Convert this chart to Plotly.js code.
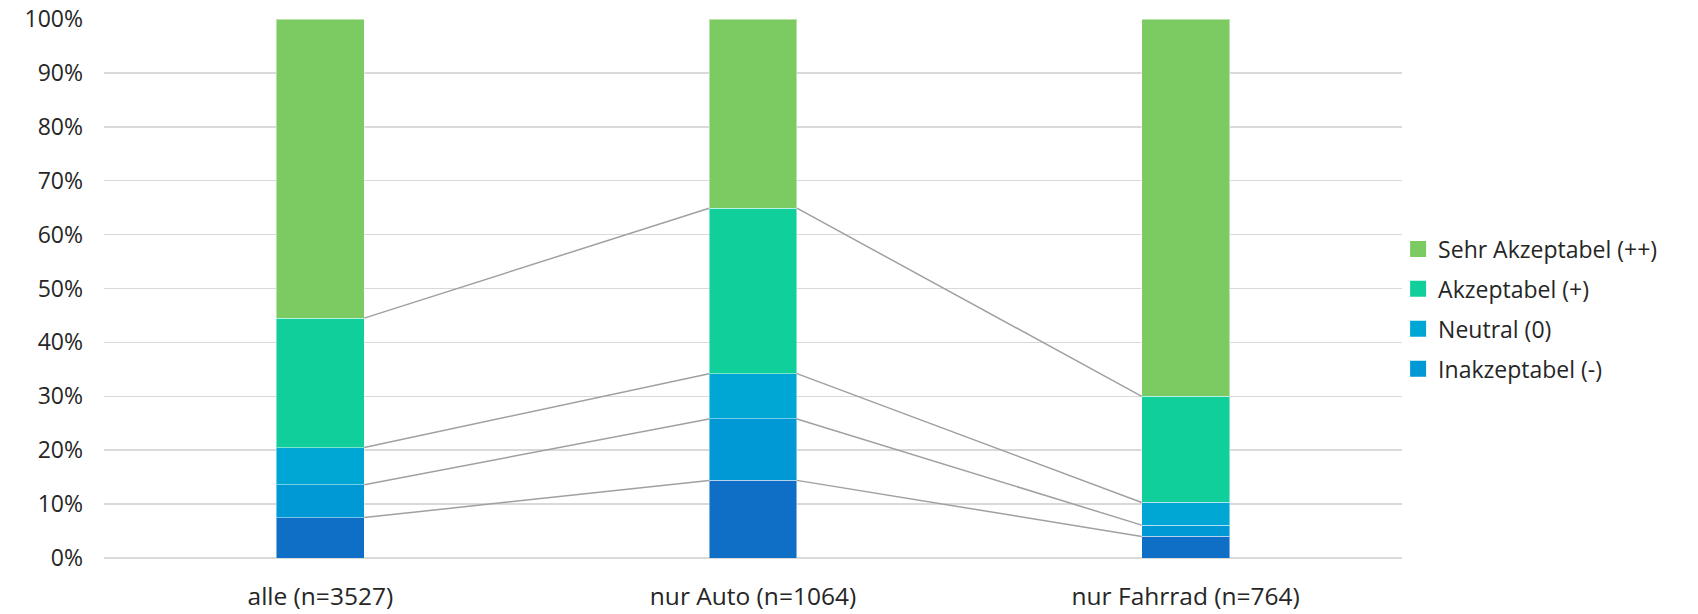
<!DOCTYPE html>
<html>
<head>
<meta charset="utf-8">
<script src="https://cdn.plot.ly/plotly-3.0.1.min.js"></script>
<style>html,body{margin:0;padding:0;background:#fff;}#chart{width:1698px;height:614px;}</style>
</head>
<body>
<div id="chart"></div>
<script>
// Categories
var categories = ["alle (n=3527)", "nur Auto (n=1064)", "nur Fahrrad (n=764)"];
// Series values (percent), bottom to top
var sehrInakzeptabel = [7.5, 14.4, 4.0];
var inakzeptabel     = [6.1, 11.4, 2.1];
var neutral          = [6.9, 8.4, 4.2];
var akzeptabel       = [24.0, 30.7, 19.7];
var sehrAkzeptabel   = [55.5, 35.1, 70.0];
// Tick labels
var yTickVals = [0,10,20,30,40,50,60,70,80,90,100];
var yTickText = ["0%","10%","20%","30%","40%","50%","60%","70%","80%","90%","100%"];

var seriesNames = ["Sehr Inakzeptabel (--)", "Inakzeptabel (-)", "Neutral (0)", "Akzeptabel (+)", "Sehr Akzeptabel (++)"];
var seriesValues = [sehrInakzeptabel, inakzeptabel, neutral, akzeptabel, sehrAkzeptabel];
var seriesColors = ["#0F6FC6", "#0098D5", "#00A7D5", "#10CF9B", "#7CCA62"];
var showLeg = [false, true, true, true, true];

var barWidth = 0.203;
var xIdx = categories.map(function(_, i){ return i; });

var traces = [];
seriesValues.forEach(function(vals, s){
  traces.push({
    type: "bar", x: xIdx, y: vals, name: seriesNames[s],
    width: barWidth, showlegend: false, legendgroup: "g" + s,
    marker: {color: seriesColors[s], line: {color: "rgba(255,255,255,0.45)", width: 1}},
    hoverinfo: "name+y"
  });
});

// Series lines connecting cumulative tops between neighbouring bars
var cum = [];
for (var s = 0; s < seriesValues.length - 1; s++) {
  cum.push(xIdx.map(function(i){
    var t = 0; for (var k = 0; k <= s; k++) t += seriesValues[k][i]; return t;
  }));
}
cum.forEach(function(c){
  var lx = [], ly = [];
  for (var i = 0; i < xIdx.length - 1; i++) {
    lx.push(xIdx[i] + barWidth/2, xIdx[i+1] - barWidth/2, null);
    ly.push(c[i], c[i+1], null);
  }
  traces.push({type: "scatter", mode: "lines", x: lx, y: ly, showlegend: false,
    hoverinfo: "skip", line: {color: "#A0A0A0", width: 1.5}});
});

// Legend entries (square swatches), top to bottom
for (var s2 = seriesValues.length - 1; s2 >= 0; s2--) {
  if (!showLeg[s2]) continue;
  traces.push({type: "scatter", mode: "markers", x: [null], y: [null],
    name: seriesNames[s2], legendgroup: "g" + s2, showlegend: true, hoverinfo: "skip",
    marker: {symbol: "square", size: 16, color: seriesColors[s2], line: {width: 0}}});
}

var font = {family: "'Open Sans', 'Noto Sans', sans-serif", size: 23, color: "#262626"};
var xfont = {family: "'Open Sans', 'Noto Sans', sans-serif", size: 24.5, color: "#262626"};
var layout = {
  width: 1698, height: 614,
  margin: {l: 103.5, r: 295.5, t: 18.5, b: 55.5},
  barmode: "stack",
  paper_bgcolor: "#fff", plot_bgcolor: "#fff",
  font: font,
  xaxis: {
    range: [-0.5, 2.5], tickvals: xIdx, ticktext: categories,
    showgrid: false, zeroline: false, showline: false, ticks: "",
    ticklabelstandoff: 21, tickfont: xfont
  },
  yaxis: {
    range: [0, 100], tickvals: yTickVals, ticktext: yTickText,
    showgrid: true, gridcolor: "#D9D9D9", gridwidth: 1.5,
    zeroline: true, zerolinecolor: "#D9D9D9", zerolinewidth: 1.5,
    showline: false, ticks: "", ticklabelstandoff: 20, tickfont: font
  },
  legend: {
    x: 0.997, xanchor: "left", y: 0.462, yanchor: "middle",
    traceorder: "grouped", font: font, bgcolor: "rgba(0,0,0,0)",
    tracegroupgap: 7, itemwidth: 30
  },
  showlegend: true
};

Plotly.newPlot("chart", traces, layout, {displayModeBar: false, staticPlot: true});
</script>
</body>
</html>
